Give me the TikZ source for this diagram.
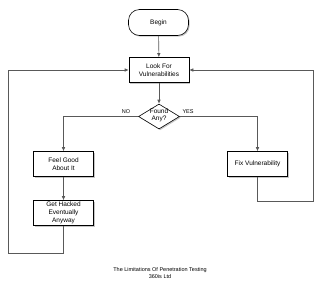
\documentclass[tikz,border=0pt]{standalone}
\usepackage{fontspec}
\setmainfont{Liberation Sans}
\usetikzlibrary{shapes.geometric,shadows,arrows.meta}
\begin{document}
\begin{tikzpicture}[x=1pt,y=-1pt,
  box/.style={draw=black,fill=white,line width=0.6pt,minimum width=60pt,minimum height=25pt,inner sep=1pt,align=center,font=\fontsize{6.5}{8}\selectfont,
    drop shadow={shadow xshift=1.2pt,shadow yshift=-1.2pt,opacity=0.45}},
  term/.style={box,rounded corners=11pt,minimum height=26pt},
  conn/.style={draw=black!65,line width=0.6pt},
  arr/.style={conn,-{Latex[length=4pt,width=3.5pt]}},
  lbl/.style={font=\fontsize{5.5}{6.5}\selectfont,inner sep=0pt}]
\useasboundingbox (0,0) rectangle (320,290);
\node[term] (begin) at (158.5,22.5) {Begin};
\node[box] (look) at (159,70) {Look For\\Vulnerabilities};
\node[diamond,draw=black,fill=white,line width=0.6pt,minimum width=41pt,minimum height=25pt,inner sep=0pt,
  drop shadow={shadow xshift=1.2pt,shadow yshift=-1.2pt,opacity=0.45}] (dec) at (159,116.5) {};
\node[align=center,font=\fontsize{6.5}{7.5}\selectfont,inner sep=0pt] (dect) at (159,115.5) {Found\\Any?};
\node[box] (feel) at (63.5,164) {Feel Good\\About It};
\node[box] (hack) at (63.5,213) {Get Hacked\\Eventually\\Anyway};
\node[box] (fix) at (257.5,164) {Fix Vulnerability};
\node[lbl] (no) at (126,112) {NO};
\node[lbl] (yes) at (188,112) {YES};
\node[align=center,font=\fontsize{5.5}{7}\selectfont,inner sep=0pt] (cap) at (160,273) {The Limitations Of Penetration Testing\\360is Ltd};
\coordinate (n1) at (63.5,117);
\coordinate (y1) at (257.5,117);
\coordinate (h1) at (63.5,253);
\coordinate (h2) at (8,253);
\coordinate (h3) at (8,70);
\coordinate (f1) at (257.5,201);
\coordinate (f2) at (313,201);
\coordinate (f3) at (313,70);
\draw[arr] (begin) -- (look);
\draw[arr] (look) -- (dec);
\draw[arr] (dec.west) -- (dec.west -| n1) -- (feel);
\draw[arr] (dec.east) -- (dec.east -| y1) -- (fix);
\draw[arr] (feel) -- (hack);
\draw[arr] (hack) -- (h1) -- (h2) -- (h3) -- (look);
\draw[arr] (fix) -- (f1) -- (f2) -- (f3) -- (look);
\end{tikzpicture}
\end{document}
